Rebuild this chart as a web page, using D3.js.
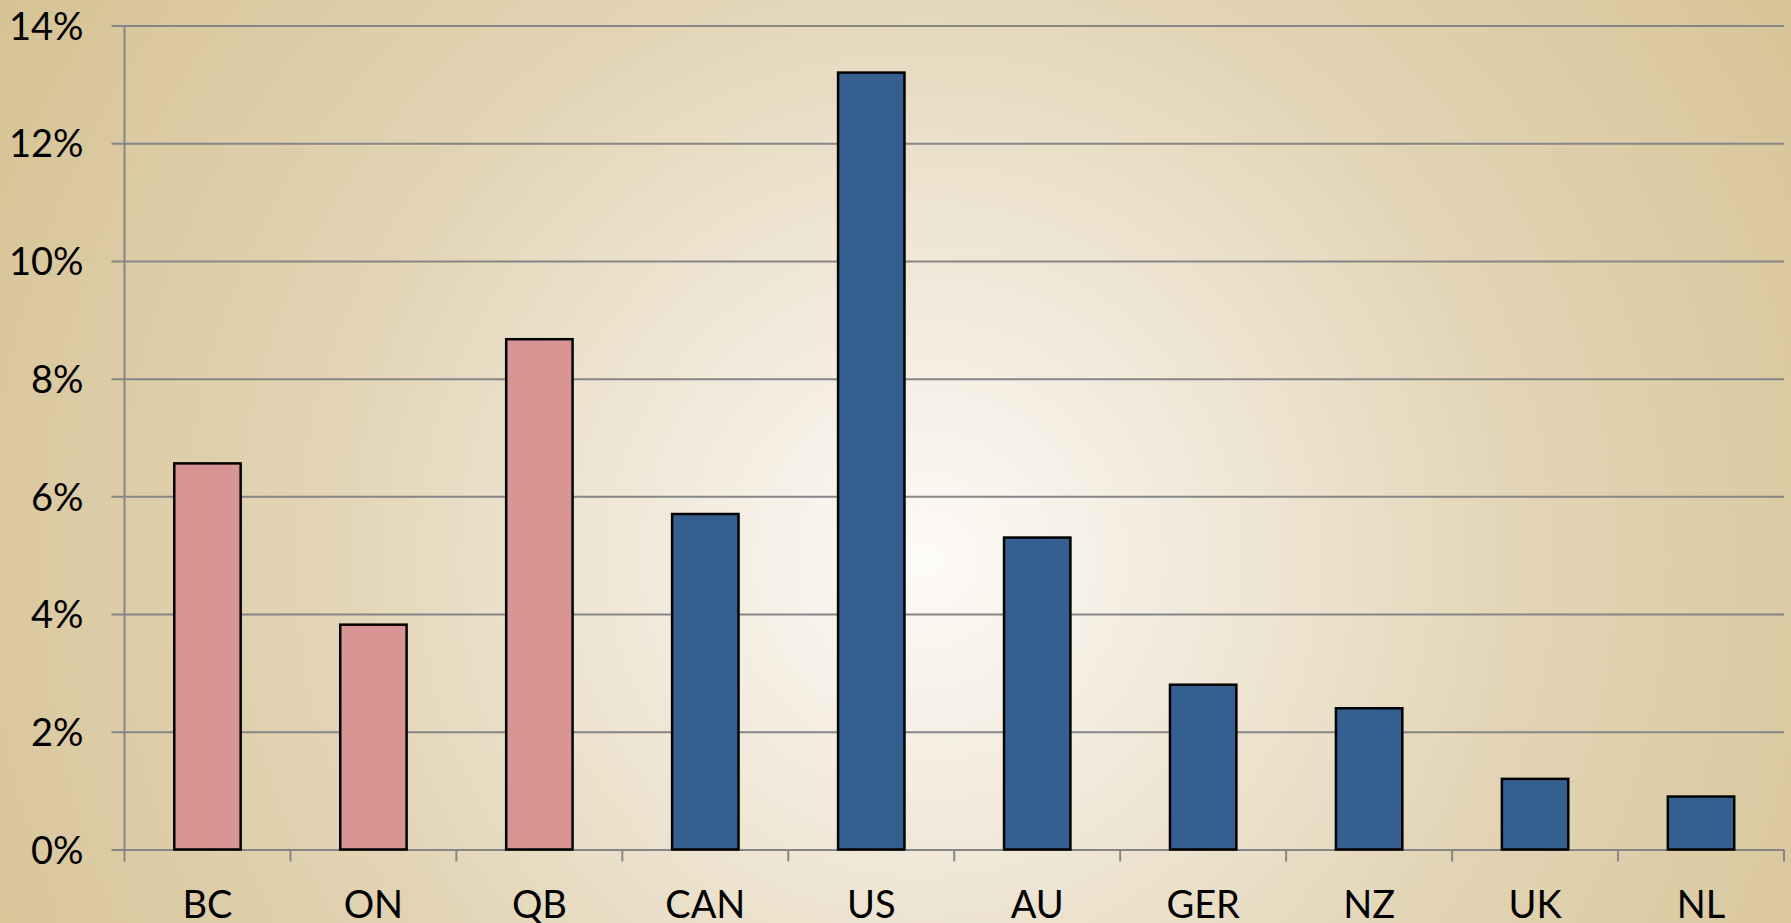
<!DOCTYPE html>
<html>
<head>
<meta charset="utf-8">
<script src="https://cdn.jsdelivr.net/npm/d3@7"></script>
<style>
  html, body { margin: 0; padding: 0; overflow: hidden; }
  svg { display: block; }
  text { font-family: Lato, "Open Sans", sans-serif; fill: #000; }
</style>
</head>
<body>
<svg id="chart"></svg>
<script>
// categories and values (share, %)
var categories = ['BC', 'ON', 'QB', 'CAN', 'US', 'AU', 'GER', 'NZ', 'UK', 'NL'];
var values = [6.56, 3.82, 8.67, 5.70, 13.20, 5.30, 2.80, 2.40, 1.20, 0.90];
var groups = ['prov', 'prov', 'prov', 'nat', 'nat', 'nat', 'nat', 'nat', 'nat', 'nat'];
var yTicks = [0, 2, 4, 6, 8, 10, 12, 14];

var W = 1791, H = 923;
var plotLeft = 124.5, plotRight = 1784, plotTop = 25.5, plotBottom = 849.5;

var svg = d3.select('#chart').attr('width', W).attr('height', H);

// background: soft radial parchment
var defs = svg.append('defs');
var grad = defs.append('radialGradient').attr('id', 'bg')
  .attr('gradientUnits', 'userSpaceOnUse')
  .attr('cx', 925).attr('cy', 560).attr('r', 1100);
grad.append('stop').attr('offset', '0%').attr('stop-color', '#fdfbf8');
grad.append('stop').attr('offset', '25%').attr('stop-color', '#f1e9da');
grad.append('stop').attr('offset', '55%').attr('stop-color', '#e2d4b5');
grad.append('stop').attr('offset', '100%').attr('stop-color', '#d5c293');
svg.append('rect').attr('width', W).attr('height', H).attr('fill', 'url(#bg)');

var xScale = d3.scaleBand().domain(categories).range([plotLeft, plotRight])
  .paddingInner(0.6).paddingOuter(0.3);
var xStep = d3.scaleBand().domain(categories).range([plotLeft, plotRight]);
var yScale = d3.scaleLinear().domain([0, 14]).range([plotBottom, plotTop]);

var colors = { prov: '#d99594', nat: '#365f91' };

// y gridlines + ticks
var yAxis = svg.append('g').attr('transform', 'translate(' + plotLeft + ',0)')
  .call(d3.axisLeft(yScale).tickValues(yTicks).tickSize(-(plotRight - plotLeft)).tickSizeOuter(0)
    .tickFormat(function(d){ return d + '%'; }).tickPadding(0));
yAxis.select('.domain').remove();
yAxis.selectAll('.tick line').attr('x1', -13).attr('stroke', '#868686').attr('stroke-width', 2);
yAxis.selectAll('.tick text').attr('x', -41).attr('dy', '0.36em')
  .style('font-size', '38px').style('font-family', 'Lato, "Open Sans", sans-serif').attr('fill', '#000');

// y axis line
svg.append('line').attr('x1', plotLeft).attr('x2', plotLeft).attr('y1', plotTop).attr('y2', plotBottom + 12)
  .attr('stroke', '#868686').attr('stroke-width', 2);

// x tick marks at category boundaries
svg.append('g').selectAll('line').data(categories).enter().append('line')
  .attr('x1', function(d){ return xStep(d) + xStep.step(); })
  .attr('x2', function(d){ return xStep(d) + xStep.step(); })
  .attr('y1', plotBottom).attr('y2', plotBottom + 12)
  .attr('stroke', '#868686').attr('stroke-width', 2);

// bars
svg.append('g').selectAll('rect').data(categories).enter().append('rect')
  .attr('x', function(d){ return xScale(d); })
  .attr('width', xScale.bandwidth())
  .attr('y', function(d, i){ return yScale(values[i]); })
  .attr('height', function(d, i){ return yScale(0) - yScale(values[i]); })
  .attr('fill', function(d, i){ return colors[groups[i]]; })
  .attr('stroke', '#000').attr('stroke-width', 2.5);

// category labels
svg.append('g').selectAll('text').data(categories).enter().append('text')
  .attr('x', function(d){ return xStep(d) + xStep.step() / 2; })
  .attr('y', 918)
  .attr('text-anchor', 'middle')
  .style('font-size', '38px')
  .text(function(d){ return d; });
</script>
</body>
</html>
